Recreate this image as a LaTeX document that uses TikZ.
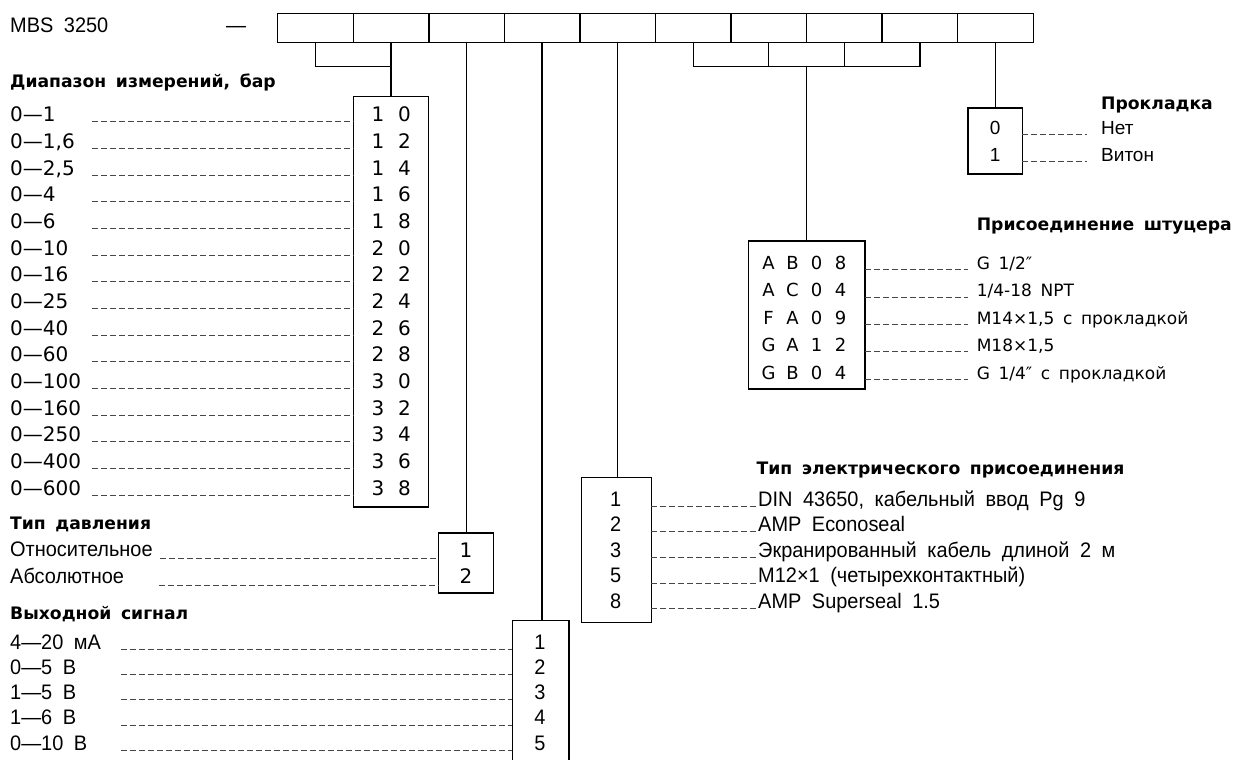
\documentclass[tikz,border=0pt]{standalone}
\usepackage{fontspec}
\setmainfont{DejaVu Sans}
\newfontfamily\nar[FakeStretch=0.95,WordSpace=1.9]{Liberation Sans}
\newfontfamily\ari[WordSpace=1.4]{Liberation Sans}
\newfontfamily\geo[WordSpace=1.6]{DejaVu Sans}
\begin{document}
\begin{tikzpicture}[x=1pt,y=-1pt,
  box/.style={draw, line width=1.4pt, inner sep=0pt, outer sep=0pt},
  conn/.style={line width=1.4pt},
  dl/.style={draw=black!72, line width=0.8pt, dash pattern=on 6pt off 3pt},
  nt/.style={font=\nar\fontsize{21}{21}\selectfont, anchor=base west, inner sep=0pt},
  nc/.style={font=\nar\fontsize{21}{21}\selectfont, anchor=base, inner sep=0pt},
  gt/.style={font=\geo\fontsize{20}{20}\selectfont, anchor=base west, inner sep=0pt},
  gc/.style={font=\geo\fontsize{20}{20}\selectfont, anchor=base, inner sep=0pt},
  ft/.style={font=\geo\fontsize{17}{17}\selectfont, anchor=base west, inner sep=0pt},
  fc/.style={font=\geo\fontsize{18}{18}\selectfont, anchor=base, inner sep=0pt},
  arlab/.style={font=\ari\fontsize{19}{19}\selectfont, anchor=base west, inner sep=0pt},
  arcode/.style={font=\ari\fontsize{19}{19}\selectfont, anchor=base, inner sep=0pt},
  tt/.style={font=\geo\bfseries\fontsize{17.2}{17.2}\selectfont, anchor=base west, inner sep=0pt}]
\useasboundingbox (0,0) rectangle (1237,760);
\fill[white] (0,0) rectangle (1237,760);

% top row
\node[nt] (mbs) at (10,33) {MBS 3250};
\node[nt] (dash) at (226,33) {—};
\foreach \i in {1,...,10}
  \node[box, minimum width=75.55pt, minimum height=29pt] (c\i) at ({277.7+75.55*(\i-0.5)},28) {};

% boxes
\node[box, minimum width=75pt, minimum height=410.3pt] (rng) at (391.1,301.85) {};
\node[box, minimum width=55pt, minimum height=60pt] (prs) at (466.1,563) {};
\node[minimum width=56.6pt, minimum height=139.3pt, inner sep=0pt, outer sep=0pt] (outb) at (540.5,690.35) {};
\draw[conn] (outb.south west) -- (outb.north west) -- (outb.north east) -- (outb.south east);
\node[box, minimum width=70pt, minimum height=145pt] (elb) at (616.2,550.2) {};
\node[box, minimum width=116.6pt, minimum height=148pt] (fit) at (806.5,315) {};
\node[box, minimum width=54.5pt, minimum height=66.2pt] (gsk) at (995.2,140.9) {};

% connectors
\coordinate (b1) at (c1.south |- 0,66.7);
\coordinate (b2) at (c2.south |- 0,66.7);
\draw[conn] (c1.south) -- (b1) -- (b2);
\draw[conn] (c2.south) -- (c2.south |- rng.north);
\draw[conn] (c3.south) -- (c3.south |- prs.north);
\draw[conn] (c4.south) -- (c4.south |- outb.north);
\draw[conn] (c5.south) -- (c5.south |- elb.north);
\coordinate (b6) at (c6.south |- 0,66.7);
\coordinate (b9) at (c9.south |- 0,66.7);
\draw[conn] (c6.south) -- (b6) -- (b9) -- (c9.south);
\draw[conn] (c7.south) -- (c7.south |- b6);
\draw[conn] (c8.south) -- (c8.south |- b6);
\draw[conn] (fit.north |- b6) -- (fit.north);
\draw[conn] (c10.south) -- (c10.south |- gsk.north);

% titles
\node[tt] (t1) at (10,88) {Диапазон измерений, бар};
\node[tt] (t2) at (10,529) {Тип давления};
\node[tt] (t3) at (10,619) {Выходной сигнал};
\node[tt] (t4) at (756.5,474) {Тип электрического присоединения};
\node[tt] (t5) at (976.6,230) {Присоединение штуцера};
\node[tt] (t6) at (1101,110) {Прокладка};

% range rows
\foreach \lab/\da/\db [count=\i from 0] in {{0—1}/1/0,{0—1,6}/1/2,{0—2,5}/1/4,{0—4}/1/6,{0—6}/1/8,{0—10}/2/0,{0—16}/2/2,{0—25}/2/4,{0—40}/2/6,{0—60}/2/8,{0—100}/3/0,{0—160}/3/2,{0—250}/3/4,{0—400}/3/6,{0—600}/3/8}{
  \pgfmathsetmacro\yy{121.7+26.67*\i}
  \node[gt] (rl\i) at (10,\yy) {\lab};
  \draw[dl] (92,\yy) -- (rng.west |- 0,\yy);
  \node[gc] (ra\i) at (378,\yy) {\da};
  \node[gc] (rb\i) at (404.5,\yy) {\db};
}

% pressure type
\node[nt] (p1) at (10,556.5) {Относительное};
\node[nt] (p2) at (10,583) {Абсолютное};
\draw[dl] (160,558.3) -- (prs.west |- 0,558.3);
\draw[dl] (159,585) -- (prs.west |- 0,585);
\node[gc] (pc1) at (466.1,557) {1};
\node[gc] (pc2) at (466.1,583.5) {2};

% output signal
\foreach \lab/\cd [count=\i from 0] in {{4—20 мА}/1,{0—5 В}/2,{1—5 В}/3,{1—6 В}/4,{0—10 В}/5}{
  \pgfmathsetmacro\yy{649+25.3*\i}
  \node[nt] (ol\i) at (10,\yy) {\lab};
  \draw[dl] (120.5,\yy) -- (outb.west |- 0,\yy);
  \node[nc] (oc\i) at (540,\yy) {\cd};
}

% electrical
\foreach \lab/\cd [count=\i from 0] in {{DIN 43650, кабельный ввод Pg 9}/1,{AMP Econoseal}/2,{Экранированный кабель длиной 2 м}/3,{M12×1 (четырехконтактный)}/5,{AMP Superseal 1.5}/8}{
  \pgfmathsetmacro\yy{506+25.65*\i}
  \node[nc] (ec\i) at (615.7,\yy) {\cd};
  \draw[dl] (elb.east |- 0,\yy) -- (756,\yy);
  \node[nt] (el\i) at (758,\yy) {\lab};
}

% fitting
\foreach \lab/\ca/\cb/\cc/\cd [count=\i from 0] in {{G 1/2″}/A/B/0/8,{1/4-18 NPT}/A/C/0/4,{M14×1,5 с прокладкой}/F/A/0/9,{M18×1,5}/G/A/1/2,{G 1/4″ с прокладкой}/G/B/0/4}{
  \pgfmathsetmacro\yy{269.5+27.4*\i}
  \node[fc] (fa\i) at (768.5,\yy) {\ca};
  \node[fc] (fb\i) at (792.5,\yy) {\cb};
  \node[fc] (fc\i) at (816.5,\yy) {\cc};
  \node[fc] (fd\i) at (840.5,\yy) {\cd};
  \draw[dl] (fit.east |- 0,\yy) -- (968,\yy);
  \node[ft] (fl\i) at (976.6,\yy) {\lab};
}

% gasket
\node[arcode] (g0) at (995.2,134) {0};
\node[arcode] (g1) at (995.2,161.5) {1};
\draw[dl] (gsk.east |- 0,134) -- (1086.5,134);
\draw[dl] (gsk.east |- 0,161.5) -- (1086.5,161.5);
\node[arlab] (gl0) at (1101,134) {Нет};
\node[arlab] (gl1) at (1101,161.5) {Витон};
\end{tikzpicture}
\end{document}
